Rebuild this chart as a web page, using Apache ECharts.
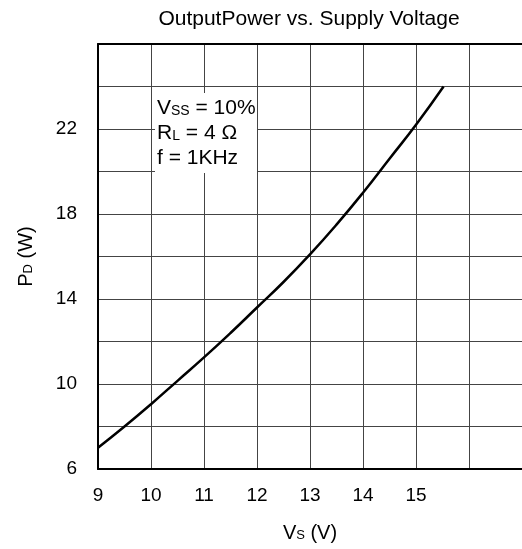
<!DOCTYPE html>
<html>
<head>
<meta charset="utf-8">
<script src="https://cdn.jsdelivr.net/npm/echarts@6/dist/echarts.min.js"></script>
<style>
html, body { margin: 0; padding: 0; background: #fff; }
#chart { width: 522px; height: 549px; }
</style>
</head>
<body>
<div id="chart"></div>
<script>
// supply voltage (V) and output power (W)
var vs = [9, 9.5, 10, 10.5, 11, 11.5, 12, 12.5, 13, 13.5, 14, 14.5, 15, 15.52];
var pd = [7.0, 8.0, 9.05, 10.15, 11.25, 12.4, 13.6, 14.8, 16.1, 17.5, 19.0, 20.6, 22.2, 24.0];
var xLabels = [9, 10, 11, 12, 13, 14, 15];
var yLabels = [6, 10, 14, 18, 22];

var font = 'Liberation Sans, Arial, sans-serif';
var chart = echarts.init(document.getElementById('chart'));

var points = [];
for (var i = 0; i < vs.length; i++) {
    points.push([vs[i], pd[i]]);
}

var nameRich = {
    b: { fontFamily: font, fontSize: 20, color: '#000', lineHeight: 20, verticalAlign: 'bottom' },
    s: { fontFamily: font, fontSize: 13, color: '#000', lineHeight: 13, verticalAlign: 'bottom', padding: [0, 0, 1, 0] }
};

var option = {};
option['backgroundColor'] = '#fff';
option['animation'] = false;

option['title'] = {
    text: 'OutputPower vs. Supply Voltage',
    left: 304,
    textAlign: 'center',
    top: 4,
    textStyle: { fontFamily: font, fontSize: 21, fontWeight: 'normal', color: '#000' }
};

option['grid'] = {
    left: 98, top: 44, right: 0, bottom: 80,
    outerBoundsMode: 'none'
};

option['xAxis'] = [{
    type: 'value',
    min: 9, max: 17, interval: 1,
    name: '{b|V}{s|S}{b| (V)}',
    nameLocation: 'middle',
    nameGap: 54,
    nameTextStyle: { rich: nameRich },
    axisLine: { show: true, onZero: false, lineStyle: { color: '#000', width: 2 } },
    axisTick: { show: false },
    axisLabel: {
        margin: 17, fontFamily: font, fontSize: 19, color: '#000',
        formatter: function (v) { return xLabels.indexOf(v) >= 0 ? String(v) : ''; }
    },
    splitLine: { show: true, lineStyle: { color: '#444', width: 1 } }
}, {
    // top frame line only
    type: 'value',
    position: 'top',
    min: 9, max: 17, interval: 1,
    axisLine: { show: true, onZero: false, lineStyle: { color: '#000', width: 2 } },
    axisTick: { show: false },
    axisLabel: { show: false },
    splitLine: { show: false }
}];

option['yAxis'] = {
    type: 'value',
    min: 6, max: 26, interval: 2,
    name: '{b|P}{s|D}{b| (W)}',
    nameLocation: 'middle',
    nameGap: 62,
    nameRotate: 90,
    nameTextStyle: { rich: nameRich },
    axisLine: { show: true, onZero: false, lineStyle: { color: '#000', width: 2 } },
    axisTick: { show: false },
    axisLabel: {
        margin: 21, fontFamily: font, fontSize: 19, color: '#000',
        formatter: function (v) { return yLabels.indexOf(v) >= 0 ? String(v) : ''; }
    },
    splitLine: { show: true, lineStyle: { color: '#444', width: 1 } }
};

option['series'] = [{
    type: 'line',
    data: points,
    smooth: true,
    showSymbol: false,
    lineStyle: { color: '#000', width: 2.5 },
    z: 3
}];

option['graphic'] = [{
    type: 'rect',
    left: 155, top: 93,
    shape: { width: 102, height: 80 },
    style: { fill: '#fff' },
    z: 10
}, {
    type: 'text',
    left: 157, top: 98,
    z: 11,
    style: {
        text: '{b|V}{s|SS}{b| = 10%}\n{b|R}{s|L}{b| = 4 Ω}\n{b|f = 1KHz}',
        rich: {
            b: { fontFamily: font, fontSize: 21, fill: '#000', lineHeight: 25, verticalAlign: 'bottom', padding: [0, 0, 3, 0] },
            s: { fontFamily: font, fontSize: 14, fill: '#000', lineHeight: 14, verticalAlign: 'bottom', padding: [0, 0, 4, 0] }
        }
    }
}];

option && chart.setOption(option);
</script>
</body>
</html>
